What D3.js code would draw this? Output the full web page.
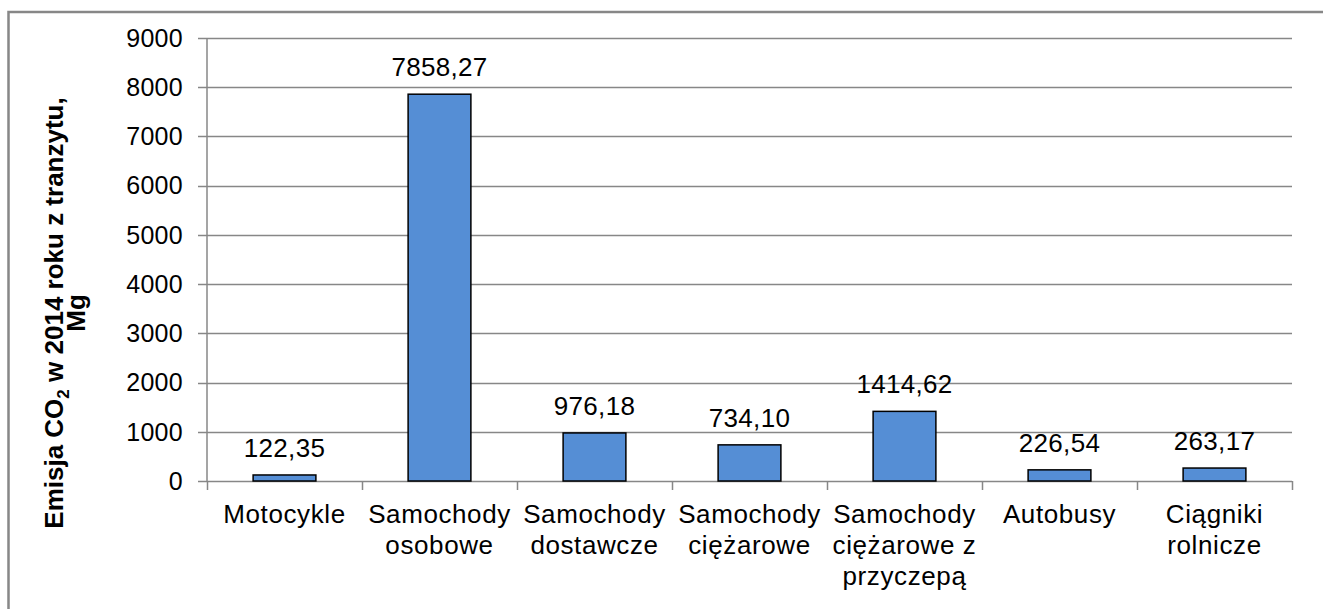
<!DOCTYPE html>
<html>
<head>
<meta charset="utf-8">
<script src="https://d3js.org/d3.v7.min.js"></script>
<style>
  body { margin: 0; background: #fff; }
  text { font-family: "Liberation Sans", Arial, sans-serif; fill: #000; }
</style>
</head>
<body>
<div id="chart"></div>
<script>
// data
var categories = ["Motocykle", "Samochody osobowe", "Samochody dostawcze", "Samochody ciężarowe",
                  "Samochody ciężarowe z przyczepą", "Autobusy", "Ciągniki rolnicze"];
var categoryLines = [
  ["Motocykle"],
  ["Samochody", "osobowe"],
  ["Samochody", "dostawcze"],
  ["Samochody", "ciężarowe"],
  ["Samochody", "ciężarowe z", "przyczepą"],
  ["Autobusy"],
  ["Ciągniki", "rolnicze"]
];
var values = [122.35, 7858.27, 976.18, 734.10, 1414.62, 226.54, 263.17];
var valueLabels = ["122,35", "7858,27", "976,18", "734,10", "1414,62", "226,54", "263,17"];
var yTicks = [0, 1000, 2000, 3000, 4000, 5000, 6000, 7000, 8000, 9000];

var width = 1323, height = 609;
var margin = { left: 207, right: 31, top: 38, bottom: 128 };

var svg = d3.select("#chart").append("svg")
  .attr("width", width)
  .attr("height", height);

// outer frame (runs off right and bottom)
svg.append("rect")
  .attr("x", 8.5).attr("y", 12)
  .attr("width", 1400).attr("height", 700)
  .attr("fill", "none")
  .attr("stroke", "#878787")
  .attr("stroke-width", 2.5);

var x = d3.scaleBand()
  .domain(categories)
  .range([margin.left, width - margin.right])
  .paddingInner(0.595)
  .paddingOuter(0.2975);

var y = d3.scaleLinear()
  .domain([0, 9000])
  .range([height - margin.bottom, margin.top]);

// gridlines
svg.append("g")
  .selectAll("line")
  .data(yTicks)
  .enter().append("line")
  .attr("x1", margin.left - 9)
  .attr("x2", width - margin.right)
  .attr("y1", function(d) { return Math.round(y(d)) + 0.5; })
  .attr("y2", function(d) { return Math.round(y(d)) + 0.5; })
  .attr("stroke", "#878787")
  .attr("stroke-width", 1.5);

// y axis line
svg.append("line")
  .attr("x1", margin.left).attr("x2", margin.left)
  .attr("y1", y(9000)).attr("y2", y(0))
  .attr("stroke", "#878787")
  .attr("stroke-width", 1.5);

// y tick labels
svg.append("g")
  .selectAll("text")
  .data(yTicks)
  .enter().append("text")
  .attr("x", 183)
  .attr("y", function(d) { return y(d); })
  .attr("dy", "0.35em")
  .attr("text-anchor", "end")
  .style("font-size", "25px")
  .style("letter-spacing", "0.3px")
  .text(function(d) { return d; });

// x tick marks between categories
var bounds = d3.range(categories.length + 1).map(function(i) {
  return margin.left + i * (width - margin.right - margin.left) / categories.length;
});
svg.append("g")
  .selectAll("line")
  .data(bounds)
  .enter().append("line")
  .attr("x1", function(d) { return Math.round(d) + 0.5; })
  .attr("x2", function(d) { return Math.round(d) + 0.5; })
  .attr("y1", y(0))
  .attr("y2", y(0) + 9)
  .attr("stroke", "#878787")
  .attr("stroke-width", 1.5);

// bars
svg.append("g")
  .selectAll("rect")
  .data(values)
  .enter().append("rect")
  .attr("x", function(d, i) { return x(categories[i]); })
  .attr("y", function(d) { return y(d); })
  .attr("width", x.bandwidth())
  .attr("height", function(d) { return y(0) - y(d); })
  .attr("fill", "#558ed5")
  .attr("stroke", "#000")
  .attr("stroke-width", 1.5);

// value labels
svg.append("g")
  .selectAll("text")
  .data(values)
  .enter().append("text")
  .attr("x", function(d, i) { return x(categories[i]) + x.bandwidth() / 2; })
  .attr("y", function(d) { return y(d) - 18; })
  .attr("text-anchor", "middle")
  .style("font-size", "26px")
  .style("letter-spacing", "0.3px")
  .text(function(d, i) { return valueLabels[i]; });

// category labels
var catG = svg.append("g")
  .selectAll("text")
  .data(categoryLines)
  .enter().append("text")
  .attr("text-anchor", "middle")
  .style("font-size", "26px")
  .style("letter-spacing", "0.6px");

catG.selectAll("tspan")
  .data(function(d, i) { return d.map(function(t) { return { t: t, i: i }; }); })
  .enter().append("tspan")
  .attr("x", function(d) { return x(categories[d.i]) + x.bandwidth() / 2; })
  .attr("y", function(d, j) { return 523 + j * 31; })
  .text(function(d) { return d.t; });

// y axis title
var title = svg.append("text")
  .attr("transform", "translate(63," + 313 + ") rotate(-90)")
  .attr("text-anchor", "middle")
  .style("font-size", "26px")
  .style("font-weight", "bold");

title.append("tspan").attr("x", 0).attr("y", 0).text("Emisja CO");
title.append("tspan").attr("dy", 6).style("font-size", "17px").text("2");
title.append("tspan").attr("dy", -6).text(" w 2014 roku z tranzytu,");
title.append("tspan").attr("x", 0).attr("y", 22).text("Mg");
</script>
</body>
</html>
